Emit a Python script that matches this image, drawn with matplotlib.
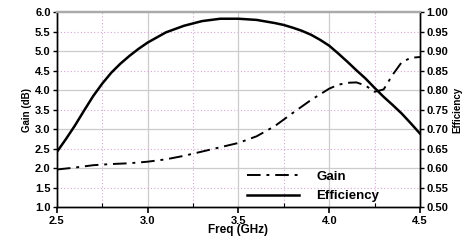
import matplotlib
matplotlib.use('Agg')
import matplotlib.pyplot as plt
from matplotlib.ticker import MultipleLocator
from matplotlib.lines import Line2D

plt.rcParams['font.family'] = ['Liberation Sans', 'DejaVu Sans']

# gain curve (left axis)
freq_gain = [2.5, 2.6, 2.7, 2.8, 2.9, 3.0, 3.1, 3.2, 3.3, 3.4, 3.5, 3.6, 3.7,
             3.8, 3.9, 4.0, 4.05, 4.1, 4.15, 4.2, 4.25, 4.3, 4.35, 4.4, 4.45, 4.5]
gain = [1.97, 2.02, 2.08, 2.11, 2.13, 2.17, 2.23, 2.32, 2.43, 2.54, 2.65, 2.82, 3.08,
        3.42, 3.75, 4.04, 4.14, 4.19, 4.2, 4.12, 3.96, 4.02, 4.4, 4.72, 4.83, 4.85]

# efficiency curve (right axis)
freq_eff = [2.5, 2.55, 2.6, 2.65, 2.7, 2.75, 2.8, 2.85, 2.9, 2.95, 3.0, 3.1, 3.2,
            3.3, 3.4, 3.5, 3.6, 3.7, 3.75, 3.8, 3.85, 3.9, 3.95, 4.0, 4.05, 4.1,
            4.15, 4.2, 4.25, 4.3, 4.35, 4.4, 4.45, 4.5]
eff = [0.642, 0.675, 0.71, 0.748, 0.785, 0.817, 0.845, 0.868, 0.888, 0.906, 0.922,
       0.948, 0.965, 0.977, 0.983, 0.983, 0.98, 0.972, 0.967, 0.960, 0.952, 0.942,
       0.929, 0.914, 0.894, 0.873, 0.851, 0.83, 0.806, 0.783, 0.762, 0.740, 0.715,
       0.689]

fig = plt.figure(figsize=(4.74, 2.42), dpi=100)
ax = fig.add_axes([0.120, 0.143, 0.766, 0.807])
ax2 = ax.twinx()

ax.set_xlim(2.5, 4.5)
ax.set_ylim(1.0, 6.0)
ax2.set_ylim(0.5, 1.0)

# grid: gray solid majors, pink dotted minors
for v in [3.0, 3.5, 4.0]:
    ax.axvline(v, color='#cccccc', lw=0.9, zorder=0)
for v in [2.75, 3.25, 3.75, 4.25]:
    ax.axvline(v, color='#d9a6d9', lw=0.8, ls=(0, (1, 2)), zorder=0)
for v in [2.0, 3.0, 4.0, 5.0]:
    ax.axhline(v, color='#cccccc', lw=0.9, zorder=0)
for v in [1.5, 2.5, 3.5, 4.5, 5.5]:
    ax.axhline(v, color='#d9a6d9', lw=0.8, ls=(0, (1, 2)), zorder=0)

ax.plot(freq_gain, gain, color='black', lw=1.4, ls=(0, (7, 3, 1.5, 3)))
ax2.plot(freq_eff, eff, color='black', lw=1.8)

for a in (ax, ax2):
    a.spines['top'].set_color('#aaaaaa')
    a.spines['top'].set_linewidth(1.6)
    for s in ('left', 'right', 'bottom'):
        a.spines[s].set_linewidth(1.0)
        a.spines[s].set_color('black')

ax.xaxis.set_major_locator(MultipleLocator(0.5))
ax.xaxis.set_minor_locator(MultipleLocator(0.25))
ax.yaxis.set_major_locator(MultipleLocator(0.5))
ax.yaxis.set_minor_locator(MultipleLocator(0.5))
ax2.yaxis.set_major_locator(MultipleLocator(0.05))

ax.tick_params(axis='x', which='major', direction='out', length=4, width=1.2, pad=2)
ax.tick_params(axis='x', which='minor', direction='in', length=3, width=0.8)
ax.tick_params(axis='y', which='major', direction='out', length=3, width=1.0, pad=1.5)
ax.tick_params(axis='y', which='minor', length=0)
ax2.tick_params(axis='y', direction='out', length=3, width=1.0, pad=1.5)

ax.set_xticklabels([f'{v:.1f}' for v in ax.get_xticks()])
ax.set_yticklabels([f'{v:.1f}' for v in ax.get_yticks()])
ax2.set_yticklabels([f'{v:.2f}' for v in ax2.get_yticks()])
for lab in ax.get_xticklabels() + ax.get_yticklabels() + ax2.get_yticklabels():
    lab.set_fontsize(8)
    lab.set_fontweight('bold')
ax2.get_yticklabels()[-1].set_fontweight('normal')
ax2.get_yticklabels()[-1].set_color('#444444')

ax.set_xlabel('Freq (GHz)', fontsize=8.5, fontweight='bold', labelpad=-1)
ax.set_ylabel('Gain (dB)', fontsize=7, fontweight='bold', labelpad=2)
ax2.set_ylabel('Efficiency', fontsize=7, fontweight='bold', labelpad=3)

handles = [Line2D([], [], color='black', lw=1.4, ls=(0, (7, 3, 1.5, 3))),
           Line2D([], [], color='black', lw=1.8)]
leg = ax.legend(handles, ['Gain', 'Efficiency'], loc='lower left',
                bbox_to_anchor=(0.49, -0.035), frameon=False, handlelength=4.0,
                handletextpad=1.3, labelspacing=0.55,
                prop={'size': 9.5, 'weight': 'bold'})

fig.savefig('out.png', dpi=100)
